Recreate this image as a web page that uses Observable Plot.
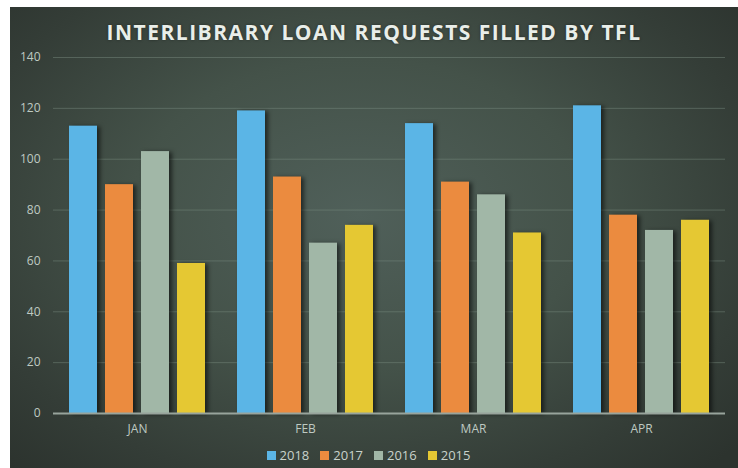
<!DOCTYPE html>
<html>
<head>
<meta charset="utf-8">
<script src="https://cdn.jsdelivr.net/npm/d3@7"></script>
<script src="https://cdn.jsdelivr.net/npm/@observablehq/plot@0.6"></script>
<style>
  html, body { margin: 0; padding: 0; background: #ffffff; width: 738px; height: 468px; overflow: hidden; }
  #frame {
    position: absolute; left: 10px; top: 7px; width: 728px; height: 461px;
    background: radial-gradient(ellipse 70% 75% at 48% 45%, #50605a 0%, #445249 45%, #343d37 80%, #2c332e 100%);
    font-family: "Open Sans", "Noto Sans", sans-serif;
  }
  #title {
    height: 38px; line-height: 50px; text-align: center;
    color: #e9eee9; font-weight: 700; font-size: 21px; letter-spacing: 1.5px;
    text-shadow: 0 0 3px rgba(0,0,0,0.4);
  }
  #chart svg { display: block; }
  #chart g[aria-label="bar"] rect { filter: drop-shadow(3px 1px 2px rgba(0,0,0,0.55)); }
  #legend { display: flex; justify-content: center; margin-top: 5px; height: 20px; }
  #legend > div { font-family: "Open Sans", "Noto Sans", sans-serif !important; font-size: 13px !important; color: #c9d2cb !important; min-height: 20px !important; height: 20px !important; margin: 0 !important; display: flex !important; align-items: center !important; }
  #legend span { margin-right: 11px !important; display: inline-flex !important; align-items: center !important; }
  #legend span svg { margin-right: 4px !important; }
</style>
</head>
<body>
<div id="frame">
  <div id="title">INTERLIBRARY LOAN REQUESTS FILLED BY TFL</div>
  <div id="chart"></div>
  <div id="legend"></div>
</div>
<script>
const months = ["JAN", "FEB", "MAR", "APR"];
const years = ["2018", "2017", "2016", "2015"];
const v2018 = [113, 119, 114, 121];
const v2017 = [90, 93, 91, 78];
const v2016 = [103, 67, 86, 72];
const v2015 = [59, 74, 71, 76];
const colors = ["#5bb5e6", "#eb8b3f", "#a1b7a7", "#e5c833"];
const yTicks = [0, 20, 40, 60, 80, 100, 120, 140];

const series = [v2018, v2017, v2016, v2015];
const data = [];
months.forEach((m, i) => years.forEach((y, j) => data.push({month: m, year: y, value: series[j][i]})));

const plot = Plot.plot({
  width: 728,
  height: 395,
  marginLeft: 42,
  marginRight: 12,
  marginTop: 12,
  marginBottom: 27,
  style: {background: "transparent", color: "#bfcac2", fontFamily: "'Open Sans', 'Noto Sans', sans-serif", fontSize: "12px"},
  fx: {domain: months, padding: 0, axis: "bottom", tickSize: 0, tickPadding: 11, label: null},
  x: {domain: years, paddingInner: 0.21, paddingOuter: 0.4025, axis: null},
  y: {domain: [0, 140], ticks: yTicks, tickSize: 0, tickPadding: 13, label: null, grid: false},
  color: {domain: years, range: colors},
  marks: [
    Plot.gridY(yTicks.filter(d => d > 0), {stroke: "#7d8d82", strokeOpacity: 0.45, strokeWidth: 1}),
    Plot.barY(data, {fx: "month", x: "year", y: "value", fill: "year"}),
    Plot.ruleY([0], {stroke: "#98a49c", strokeWidth: 2})
  ]
});
document.getElementById("chart").appendChild(plot);

const legend = Plot.legend({
  color: {domain: years, range: colors},
  legend: "swatches",
  swatchSize: 9,
  className: "lg"
});
document.getElementById("legend").appendChild(legend);
</script>
</body>
</html>
